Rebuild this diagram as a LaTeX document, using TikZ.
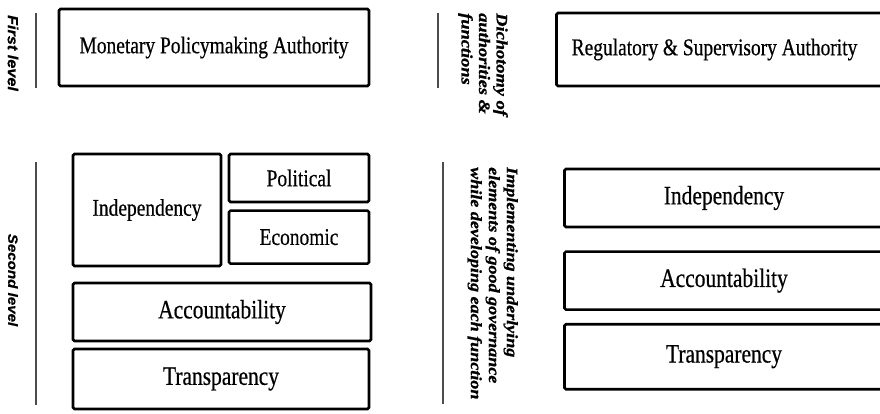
\documentclass[tikz,border=0pt]{standalone}
\usepackage{fontspec}
\setmainfont{Liberation Serif}
\newfontfamily\boxfont{Liberation Serif}[FakeStretch=0.81, FakeBold=0.5]
\newfontfamily\notefont{Liberation Serif}[FakeStretch=1.15, FakeBold=1]
\newfontfamily\levelfont{Liberation Sans}[FakeStretch=1.12, FakeBold=0.6]
\usepackage{tikz}
\usetikzlibrary{positioning}

\tikzset{
  box/.style = {draw, line width=2.6pt, rounded corners=1.5pt, align=center, inner sep=0pt,
                font=\boxfont\fontsize{24}{28}\selectfont},
  bigbox/.style = {box, font=\boxfont\fontsize{26.5}{30}\selectfont},
  % boxes running off the right edge carry their text as a shifted label
  edgetext/.style = {inner sep=0pt, font=\boxfont\fontsize{24}{28}\selectfont},
  bigedgetext/.style = {inner sep=0pt, font=\boxfont\fontsize{26.5}{30}\selectfont},
  rule/.style = {draw=black!70, line width=1.1pt},
  levelnote/.style = {rotate=-90, inner sep=0pt, font=\levelfont\bfseries\itshape},
  sidenote/.style = {rotate=-90, anchor=north west, align=left, inner sep=0pt}
}

\begin{document}
\begin{tikzpicture}[x=1pt, y=-1pt]
  \useasboundingbox (0,0) rectangle (880,413);
  \clip (0,0) rectangle (880,413);

  % first level: the two authorities
  \node[levelnote, font=\levelfont\bfseries\itshape\fontsize{14.5}{16}\selectfont] (lvlone) at (13,53) {First level};
  \draw[rule] (36,13) -- (36,88);
  \node[box, minimum width=310pt, minimum height=77pt] (mpa) at (214,47.5) {Monetary Policymaking Authority};

  \draw[rule] (438,13) -- (438,88);
  \node[sidenote, font=\notefont\bfseries\itshape\fontsize{16}{17.5}\selectfont] (dich) at (508,13)
    {Dichotomy of\\authorities \&\\functions};
  \node[box, minimum width=339pt, minimum height=73pt,
        label={[edgetext, xshift=-11.5pt]center:Regulatory \& Supervisory Authority}] (rsa) at (726,49.5) {};

  % second level: elements of good governance
  \node[levelnote, font=\levelfont\bfseries\itshape\fontsize{13.5}{15}\selectfont] (lvltwo) at (13,280) {Second level};
  \draw[rule] (36,162) -- (36,405);

  \node[box, minimum width=148pt, minimum height=112pt] (indep) at (147,210) {Independency};
  \node[box, minimum width=140pt, minimum height=48pt] (pol) at (299,178) {Political};
  \node[box, minimum width=140pt, minimum height=53pt, below=6pt of pol] (eco) {Economic};
  \node[bigbox, minimum width=298pt, minimum height=58pt] (acc) at (222,312) {Accountability};
  \node[bigbox, minimum width=296pt, minimum height=60pt] (trans) at (221,379) {Transparency};

  \draw[rule] (443,162) -- (443,404);
  \node[sidenote, font=\notefont\bfseries\itshape\fontsize{15.7}{18}\selectfont] (impl) at (518,167)
    {Implementing underlying\\elements of good governance\\while developing each function};

  \node[box, minimum width=331pt, minimum height=58pt,
        label={[bigedgetext, xshift=-6pt]center:Independency}] (rindep) at (730,198) {};
  \node[box, minimum width=331pt, minimum height=58pt, below=22pt of rindep,
        label={[bigedgetext, xshift=-6pt]center:Accountability}] (racc) {};
  \node[box, minimum width=331pt, minimum height=65pt, below=12pt of racc,
        label={[bigedgetext, xshift=-6pt]center:Transparency}] (rtrans) {};
\end{tikzpicture}
\end{document}
